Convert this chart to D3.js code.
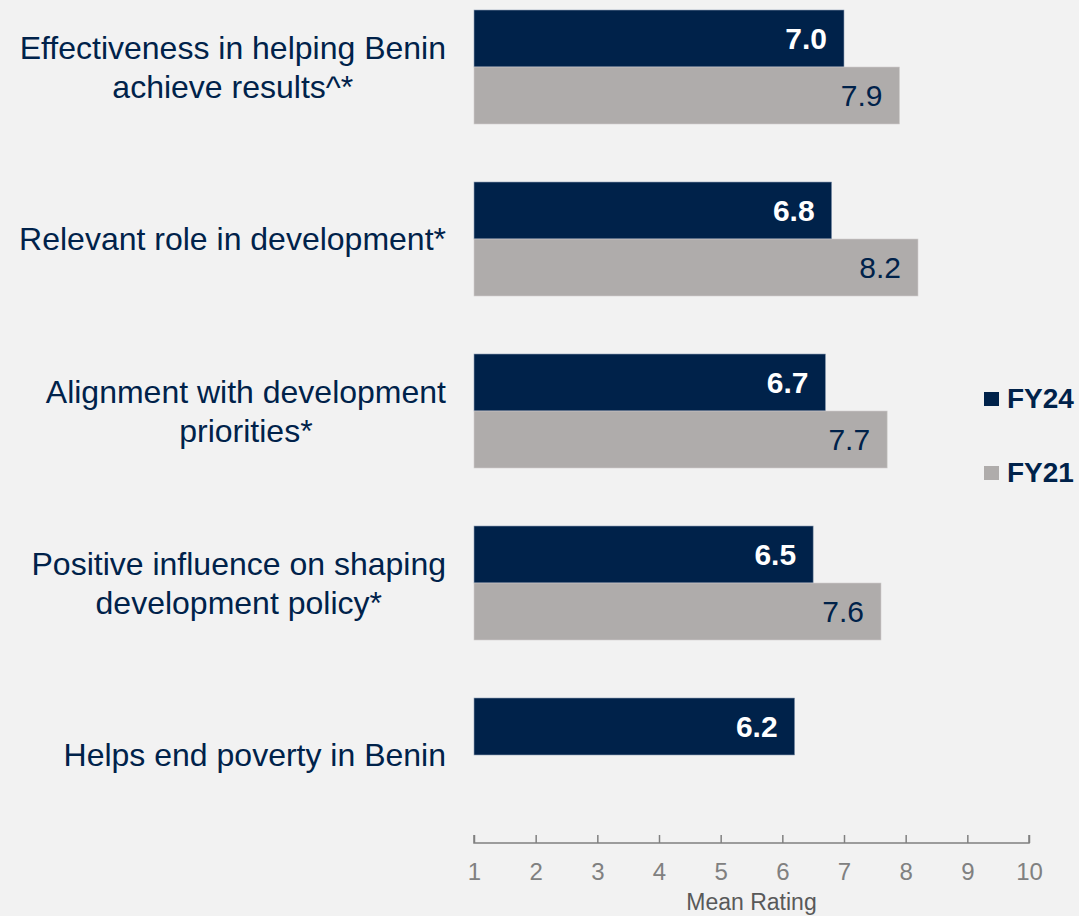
<!DOCTYPE html>
<html><head><meta charset="utf-8">
<script src="https://cdn.jsdelivr.net/npm/d3@7"></script>
<style>html,body{margin:0;padding:0;background:#f2f2f2;}svg{display:block;}</style>
</head><body>
<script>
const categories = [
  ["Effectiveness in helping Benin","achieve results^*"],
  ["Relevant role in development*"],
  ["Alignment with development","priorities*"],
  ["Positive influence on shaping","development policy*"],
  ["Helps end poverty in Benin"]
];
const seriesNames = ["FY24","FY21"];
const fy24 = [7.0, 6.8, 6.7, 6.5, 6.2];
const fy21 = [7.9, 8.2, 7.7, 7.6, null];
const ticks = [1,2,3,4,5,6,7,8,9,10];
const axisTitle = "Mean Rating";

const W = 1079, H = 916;
const NAVY = "#00224a", GREY = "#afacab";
const font = "'Liberation Sans', Arial, sans-serif";

const svg = d3.select("body").append("svg").attr("width", W).attr("height", H)
  .style("font-family", font);
svg.append("rect").attr("width", W).attr("height", H).attr("fill", "#f2f2f2");

const keys = categories.map((c,i)=>"c"+i);
const x = d3.scaleLinear().domain([1,10]).range([474,1029]);
const y0 = d3.scaleBand().domain(keys).range([10,812]).paddingInner(58/172).paddingOuter(0);
const y1 = d3.scaleBand().domain(seriesNames).range([0, y0.bandwidth()]);

const data = keys.map((k,i)=>({k, vals:[{s:"FY24",v:fy24[i]},{s:"FY21",v:fy21[i]}]}));

const g = svg.selectAll("g.grp").data(data).join("g").attr("class","grp")
  .attr("transform", d=>`translate(0,${y0(d.k)})`);

g.selectAll("rect").data(d=>d.vals.filter(e=>e.v!=null)).join("rect")
  .attr("x", x(1))
  .attr("y", e=>y1(e.s))
  .attr("width", e=>x(e.v)-x(1))
  .attr("height", y1.bandwidth())
  .attr("fill", e=>e.s==="FY24"?NAVY:GREY)
  .attr("stroke", e=>e.s==="FY24"?"#8fa0b5":"#cfcdcc")
  .attr("stroke-width", 0.6);

const fsv = 30;
g.selectAll("text.val").data(d=>d.vals.filter(e=>e.v!=null)).join("text").attr("class","val")
  .attr("x", e=>x(e.v)-17)
  .attr("y", e=>y1(e.s)+y1.bandwidth()/2+fsv*0.358)
  .attr("text-anchor","end")
  .attr("font-size", fsv)
  .attr("font-weight", e=>e.s==="FY24"?"bold":"normal")
  .attr("fill", e=>e.s==="FY24"?"#ffffff":NAVY)
  .text(e=>d3.format(".1f")(e.v));

// category labels
const fsc = 32, lh = 38.5;
data.forEach((d,i)=>{
  const lines = categories[i];
  const cy = y0(d.k) + y0.bandwidth()/2;
  const t = svg.append("text").attr("font-size", fsc).attr("fill", NAVY).attr("text-anchor","middle");
  const tspans = lines.map((ln,j)=> t.append("tspan").text(ln)
     .attr("y", cy + (j-(lines.length-1)/2)*lh + fsc*0.358));
  const widths = tspans.map(s=>s.node().getComputedTextLength());
  const maxW = Math.max(...widths);
  tspans.forEach(s=>s.attr("x", 446 - maxW/2));
});

// axis
const axisY = 843;
const axis = d3.axisTop(x).tickValues(ticks).tickSize(8).tickFormat(d3.format("d"));
const ag = svg.append("g").attr("transform",`translate(0,${axisY})`).call(axis);
ag.select(".domain").attr("stroke","#808080").attr("stroke-width",1.5).attr("d",`M${x(1)},-8V0H${x(10)}V-8`);
ag.selectAll(".tick line").attr("stroke","#808080").attr("stroke-width",1.5);
ag.selectAll(".tick text").attr("y", 37).attr("dy", null).attr("fill","#808080")
  .attr("font-size", 24).attr("font-family", font);
svg.append("text").attr("x",(x(1)+x(10))/2).attr("y",910).attr("text-anchor","middle")
  .attr("font-size",23).attr("fill","#595959").text(axisTitle);

// legend
const leg = [{s:"FY24",c:NAVY,y:392},{s:"FY21",c:GREY,y:466}];
const lg = svg.selectAll("g.leg").data(leg).join("g").attr("class","leg");
lg.append("rect").attr("x",984).attr("y",d=>d.y).attr("width",15).attr("height",14).attr("fill",d=>d.c);
lg.append("text").attr("x",1007).attr("y",d=>d.y+16).attr("font-size",28).attr("font-weight","bold")
  .attr("fill",NAVY).text(d=>d.s);
</script>
</body></html>
